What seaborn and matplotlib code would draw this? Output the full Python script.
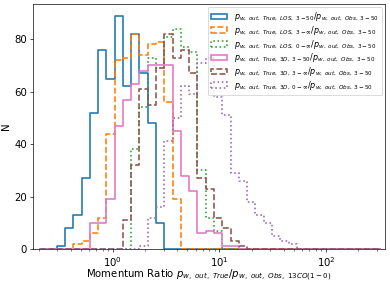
import numpy as np
import pandas as pd
import matplotlib
matplotlib.use("Agg")
import matplotlib.pyplot as plt
import seaborn as sns
from matplotlib.patches import Patch

# shared bins, given as log10 of the edges
log_edges = -0.684 + 0.07775 * np.arange(42)

# counts per bin, each list starts at bin index *_start
los_350_start = 2
los_350 = [1, 8, 13, 27, 52, 76, 65, 89, 62, 82, 67, 48, 10]
los_3inf_start = 4
los_3inf = [2, 3, 6, 12, 44, 72, 73, 82, 74, 78, 79, 56, 19]
los_0inf_start = 11
los_0inf = [38, 54, 73, 69, 81, 84, 77, 75, 30, 12, 7]
d3_350_start = 6
d3_350 = [10, 10, 19, 47, 57, 63, 68, 70, 70, 70, 45, 28, 22, 6, 7, 6, 1, 1]
d3_3inf_start = 10
d3_3inf = [11, 32, 61, 55, 69, 82, 73, 76, 67, 27, 23, 12, 8, 3, 1]
d3_0inf_start = 12
d3_0inf = [1, 12, 16, 41, 50, 62, 59, 71, 73, 58, 51, 29, 26, 18, 13, 10, 5, 3, 2]

labels = [
    r"$p_{w,\ out,\ True,\ LOS,\ 3-50}/p_{w,\ out,\ Obs,\ 3-50}$",
    r"$p_{w,\ out,\ True,\ LOS,\ 3-\infty}/p_{w,\ out,\ Obs,\ 3-50}$",
    r"$p_{w,\ out,\ True,\ LOS,\ 0-\infty}/p_{w,\ out,\ Obs,\ 3-50}$",
    r"$p_{w,\ out,\ True,\ 3D,\ 3-50}/p_{w,\ out,\ Obs,\ 3-50}$",
    r"$p_{w,\ out,\ True,\ 3D,\ 3-\infty}/p_{w,\ out,\ Obs,\ 3-50}$",
    r"$p_{w,\ out,\ True,\ 3D,\ 0-\infty}/p_{w,\ out,\ Obs,\ 3-50}$",
]
colors = ["C0", "C1", "C2", "C6", "C5", "C4"]
styles = ["-", "--", ":", "-", "--", ":"]

series = [(los_350_start, los_350), (los_3inf_start, los_3inf),
          (los_0inf_start, los_0inf), (d3_350_start, d3_350),
          (d3_3inf_start, d3_3inf), (d3_0inf_start, d3_0inf)]

nbins = len(log_edges) - 1
centers = 10 ** (log_edges[:-1] + np.diff(log_edges) / 2)

# drawn as a larger figure at low dpi, so ticks and pads come out small
dpi = 61
fig, ax = plt.subplots(figsize=(390 / dpi, 282 / dpi), dpi=dpi)
fig.subplots_adjust(left=0.085, right=0.987, bottom=0.117, top=0.986)

handles = []
for (start, counts), lab, col, ls in zip(series, labels, colors, styles):
    n = np.zeros(nbins)
    n[start:start + len(counts)] = counts
    df = pd.DataFrame({"ratio": centers, "n": n})
    sns.histplot(data=df, x="ratio", weights="n", bins=list(log_edges),
                 log_scale=True, element="step", fill=False, color=col,
                 linestyle=ls, linewidth=1.9, ax=ax)
    handles.append(Patch(facecolor="none", edgecolor=col, linestyle=ls,
                         linewidth=1.9, label=lab))

ax.set_xlim(0.178, 358)
ax.set_ylim(bottom=0)
ax.set_xlabel(r"Momentum Ratio $p_{w,\ out,\ True}/p_{w,\ out,\ Obs,\ 13CO(1-0)}$",
              fontsize=12, labelpad=-1)
ax.set_ylabel("N", fontsize=12)
ax.tick_params(labelsize=12)
ax.legend(handles=handles, loc="upper right", fontsize=9.5, labelspacing=0.12,
          borderaxespad=0.4)

fig.savefig("out.png", dpi=dpi)
